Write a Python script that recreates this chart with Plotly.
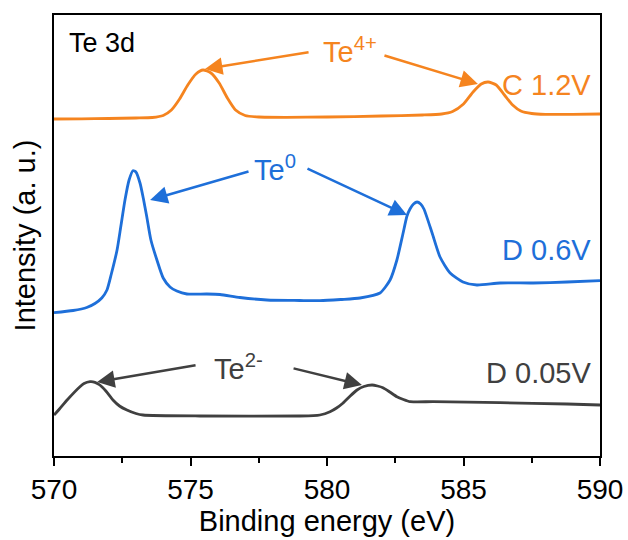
import plotly.graph_objects as go

# ---- data (binding energy in eV, intensity in a.u. with vertical offsets) ----
e_c12 = [570.0, 571.0, 572.0, 573.0, 573.6, 574.0, 574.3, 574.6, 574.9, 575.2, 575.46, 575.75, 576.05,
         576.35, 576.65, 577.0, 577.5, 578.5, 580.0, 582.0, 583.5, 584.2, 584.6, 585.0, 585.35, 585.65,
         585.9, 586.2, 586.5, 586.8, 587.1, 587.5, 588.0, 589.0, 590.0]
i_c12 = [337, 337.2, 337.5, 338, 338.5, 340.5, 346, 357, 371, 382, 386, 383, 373,
         358, 346, 340.5, 339, 338.7, 339, 340, 341, 342, 344.5, 352, 364, 372,
         374, 371, 361, 351, 345, 342.5, 341.7, 341.7, 342]

e_d06 = [570.0, 570.7, 571.2, 571.5, 571.75, 571.94, 572.1, 572.31, 572.45, 572.6, 572.75, 572.89, 573.0,
         573.15, 573.27, 573.4, 573.55, 573.77, 574.0, 574.25, 574.5, 574.87, 575.6, 576.08, 576.81,
         577.8, 579.0, 579.74, 580.5, 581.21, 581.94, 582.31, 582.56, 582.78, 582.93, 583.04, 583.17,
         583.3, 583.43, 583.55, 583.85, 584.14, 584.51, 584.98, 585.49, 586.34, 587.55, 588.79, 590.0]
i_d06 = [143.3, 145.5, 148.5, 152.5, 158, 166, 182, 206, 230, 256, 276, 285.3, 284,
         273, 258, 239, 216, 196, 178, 169, 165, 162, 162, 161.5, 158.5,
         156, 155.5, 155.3, 156.5, 158, 163, 176, 196, 222, 240, 247, 252,
         254, 252, 247, 223, 199, 183, 174, 171, 173, 173, 174, 175.3]

e_d005 = [570.0, 570.2, 570.48, 570.95, 571.1, 571.32, 571.5, 571.68, 571.9, 572.16, 572.4, 572.67,
          573.0, 573.26, 575.35, 579.01, 579.5, 579.74, 580.11, 580.35, 580.59, 580.85, 581.1, 581.35,
          581.65, 581.85, 582.05, 582.3, 582.56, 582.8, 583.04, 583.3, 583.88, 586.34, 588.79, 590.0]
i_d005 = [41, 47, 56, 69.3, 72.5, 74.3, 73.7, 71, 65, 56, 50, 46,
          42.5, 41, 40, 40, 40.3, 41, 44.3, 48, 53, 60, 66, 69.5,
          71, 70, 68.3, 64, 59.3, 56.5, 54.3, 54.2, 54.3, 53.3, 52, 51]

series_names = ["C 1.2V", "D 0.6V", "D 0.05V"]
colors = ["#F5841F", "#1E6FD9", "#404040"]

FONT = "Liberation Sans, Arial, sans-serif"
FS = 29

fig = go.Figure()
for xs, ys, name, c in zip([e_c12, e_d06, e_d005], [i_c12, i_d06, i_d005], series_names, colors):
    fig.add_trace(go.Scatter(x=xs, y=ys, mode="lines", name=name,
                             line=dict(color=c, width=2.8, shape="spline", smoothing=0.6),
                             showlegend=False))

annotations = []
# text labels
labels = [
    ("Te 3d", 570.48, 413, "left", "black"),
    ("Te<sup>4+</sup>", 580.84, 406, "center", colors[0]),
    ("C 1.2V", 589.74, 371, "right", colors[0]),
    ("Te<sup>0</sup>", 578.1, 288, "center", colors[1]),
    ("D 0.6V", 589.74, 206, "right", colors[1]),
    ("Te<sup>2-</sup>", 576.74, 89, "center", colors[2]),
    ("D 0.05V", 589.74, 83, "right", colors[2]),
]
for t, x, y, xa, c in labels:
    annotations.append(dict(text=t, x=x, y=y, xref="x", yref="y", xanchor=xa, yanchor="middle",
                            showarrow=False, font=dict(family=FONT, size=FS if t != "Te 3d" else 27, color=c)))

# arrows: (tail_x, tail_y, tip_x, tip_y, color)
arrows = [
    (579.38, 404, 575.53, 387, colors[0]),
    (582.05, 401, 585.53, 372, colors[0]),
    (577.18, 285, 573.52, 256, colors[1]),
    (579.23, 288, 582.93, 241, colors[1]),
    (575.24, 91, 571.58, 74, colors[2]),
    (578.72, 88, 581.28, 71, colors[2]),
]
for tx, ty, hx, hy, c in arrows:
    annotations.append(dict(text="", x=hx, y=hy, ax=tx, ay=ty, xref="x", yref="y", axref="x", ayref="y",
                            showarrow=True, arrowhead=2, arrowsize=1.4, arrowwidth=2.5, arrowcolor=c,
                            standoff=0, startstandoff=0))

fig.update_layout(
    width=628, height=540,
    margin=dict(l=54, r=28, t=15, b=84),
    paper_bgcolor="white", plot_bgcolor="white",
    font=dict(family=FONT, size=FS, color="black"),
    annotations=annotations,
    xaxis=dict(range=[570, 590], dtick=5, tick0=570, ticks="outside", ticklen=8, tickwidth=1.5,
               tickcolor="black", showline=True, linecolor="black", linewidth=1.5, mirror=True,
               showgrid=False, zeroline=False, automargin=False,
               minor=dict(dtick=2.5, ticks="outside", ticklen=5, tickwidth=1.5, tickcolor="black"),
               tickfont=dict(family=FONT, size=28),
               title=dict(text="Binding energy (eV)", font=dict(family=FONT, size=FS), standoff=4)),
    yaxis=dict(range=[0, 441], showticklabels=False, ticks="", showline=True, linecolor="black",
               linewidth=1.5, mirror=True, showgrid=False, zeroline=False, automargin=False,
               title=dict(text="Intensity (a. u.)", font=dict(family=FONT, size=FS), standoff=8)),
)

fig.write_html("out.html")
